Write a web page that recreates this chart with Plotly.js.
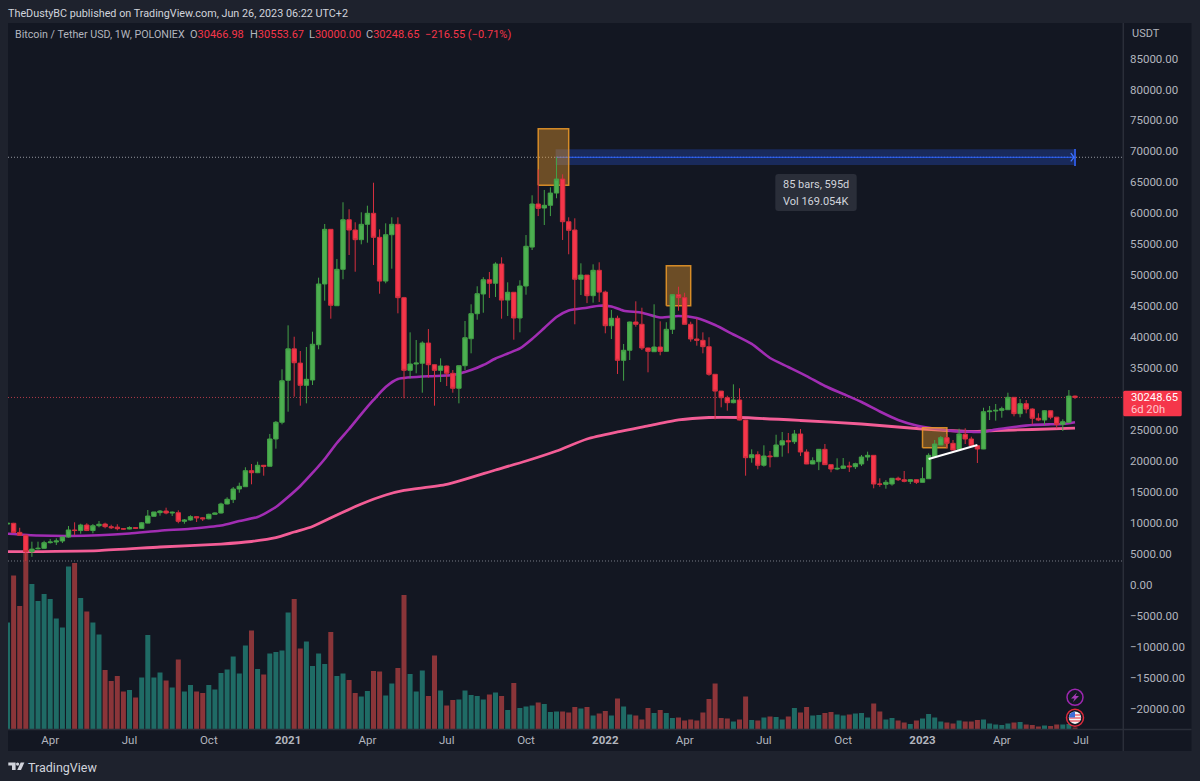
<!DOCTYPE html>
<html><head><meta charset="utf-8">
<script src="https://cdn.plot.ly/plotly-3.0.1.min.js"></script>
<style>html,body{margin:0;padding:0;background:#1e222d;overflow:hidden}#chart{width:1200px;height:781px}</style>
</head><body><div id="chart"></div>
<script>
const firstWeek = "2020-02-17";
const opens = [9800,9920,8450,8000,5330,5800,5880,6790,6900,7060,7700,8840,8750,9640,8750,9530,9800,9370,9300,9050,9000,9230,9100,9950,11050,11640,11900,11580,11630,10240,10450,10990,10800,10650,11370,11580,13040,13750,15460,15830,18420,18090,19290,19130,23540,26240,33020,38100,35800,32210,33070,38770,48580,57410,45070,50950,58960,57300,55740,58220,60000,56120,49050,56540,58220,46370,34630,35650,35770,39040,35540,34630,35330,34150,31730,35380,39740,43780,46960,49270,48700,51810,45980,47240,43080,48250,54540,61500,60850,61290,63270,65530,58640,57300,49340,50020,46690,50790,47270,41840,43040,36250,37870,42440,42070,38240,37640,38400,37700,41260,46850,46370,42070,39690,39480,38450,33990,31280,30210,29400,29840,26600,20520,21000,19290,20790,20680,22570,23250,23100,24350,21440,19500,19870,21870,19390,18690,18800,19180,19060,19500,20630,20900,16270,16220,16270,17190,16960,16700,16960,16540,17120,20680,22570,23750,22840,21870,24300,23540,22460,21920,27950,28060,28170,28270,30270,27630,29240,28380,26880,26600,28100,27070,25900,26230,30466.98];
const highs = [10000,9990,9200,8100,6950,6950,7100,7380,7490,7750,9480,10080,9850,9920,9800,10290,10020,9690,9760,9130,9430,9290,10130,12070,11750,12070,12440,11830,12020,10610,11210,11050,10900,11470,11680,13250,14120,15780,16480,18970,19500,19870,19330,24350,26450,34800,41900,40060,37750,38400,40870,49600,58270,57410,52620,61780,60650,58550,60160,61230,64940,57410,58380,59350,59350,46500,40770,39530,39320,41300,35600,36570,35400,34680,35400,42600,45300,48210,49680,50520,52080,52890,48850,47240,49180,56490,62910,67100,63770,64200,69050,66300,59350,59190,51920,50020,51760,52080,47500,44380,43460,38890,42500,45780,44750,38300,45300,42550,42400,46900,48140,47170,42490,43040,40770,39970,34000,31300,30530,32370,31730,26650,21870,21550,22520,21600,24230,24670,24510,24990,25150,21870,20580,21900,22730,19400,20420,20470,19870,19710,20950,21490,20950,17190,16910,17220,17450,18370,17000,17000,18960,21230,23380,24030,24350,23380,25200,25270,23910,22500,28590,28870,29190,28760,31020,30300,30000,29840,28500,27690,28200,28150,27100,26720,31450,30553.67];
const lows = [9500,8400,7950,3830,4500,5690,5800,6650,6410,6730,7590,8030,8240,8660,8300,9270,9110,9000,8790,8900,8950,9020,9050,9900,11000,11150,11370,11100,9920,9850,10350,10130,10290,10550,11300,11500,12970,13200,14860,15800,16220,18030,17610,19100,21970,25910,27950,30370,28920,29300,32260,38030,45880,42970,45020,49340,53260,50560,54990,55250,51650,47010,48690,51050,43840,30110,33340,34150,31020,33440,28920,32740,32100,31020,29300,34680,37380,42810,43940,46320,46480,42970,43410,39580,40770,46850,54070,59550,58110,59550,62430,55690,53380,42070,46800,45490,45560,45670,40610,39690,34040,32960,36300,41680,37910,34310,37600,37060,37650,40500,44260,42050,39260,38610,37380,33760,26710,28660,28110,29300,26550,17610,19710,18640,19060,18960,20650,20680,21230,22730,20790,19480,19480,18510,19380,18160,18510,19060,18210,18690,19180,20030,15570,15830,15510,16000,16750,16540,16270,16270,16500,17100,20650,22550,22040,21750,21760,22730,22290,19660,21900,26600,26500,26980,28250,27200,27040,27690,25900,26420,25850,26720,25270,24830,26200,30000];
const closes = [9920,8450,8000,5330,5750,5880,6790,6900,7060,7700,8840,8750,9640,8750,9530,9760,9370,9210,9050,8990,9230,9100,10000,11090,11750,11900,11580,11700,10240,10450,10990,10800,10650,11370,11580,13040,13800,15460,15900,18420,18090,19290,19130,23540,26240,32950,38100,35860,32210,33180,38840,48580,57410,45140,50950,58960,57300,55740,58220,60000,56120,49050,56540,58220,46370,34630,35650,35800,39040,35540,34630,35330,34150,31730,35380,39900,43780,47010,49270,48700,51810,45980,47240,43080,48250,54670,61500,60800,61290,63270,65530,58640,57250,49340,50020,46690,50790,47270,41840,43040,36250,37870,42440,42070,38240,37700,38400,37700,41260,46850,46370,42070,39690,39480,38450,33990,31280,30210,29400,29840,26600,20520,21000,19290,20790,20680,22570,23250,23100,24350,21440,19500,20030,21870,19390,18690,18800,19180,19060,19550,20630,20900,16270,16220,16540,17190,16960,16700,16960,16540,17120,20900,22730,23750,22840,21760,24350,23540,22460,21920,27950,28060,28170,28430,30270,27630,29240,28380,26880,26600,28100,27070,25900,26330,30466.98,30248.65];
const volumeK = [21.3,30.7,24.6,35.6,29,25.6,27,26,22.1,20.3,32.5,33.2,26.2,23.5,21.3,18.9,11.8,9.6,10.6,7.5,7.8,6.3,10.3,18.8,10.3,11.3,9.7,8.3,13.9,7.5,8.8,7.5,7.2,8.8,7.9,11.2,11.9,14.5,11.1,16.7,19.7,12,10.9,15.1,15.4,15.7,23.3,26,16.1,17.5,12.6,15.1,13,19.4,10.6,11.1,9.8,7.2,6.5,7.6,11.6,11.5,6.7,9.1,12.2,26.8,11,7.5,11.7,6.6,14.7,7.7,4.7,5.8,5.9,7.7,6.8,6.6,5.9,6.9,7.3,6.6,3.8,9.2,4.2,4.5,4.7,5.3,5,3.4,3.5,3.5,3.3,4.4,4.1,4.4,2.7,3.1,3.6,2.7,6.1,4.5,2.9,2.7,1.9,4.2,3.2,3.8,3.2,2.2,2.3,1.7,1.9,1.7,3.3,6,9.1,2.2,2.1,1.5,1.9,6.5,1.8,1.7,2.3,2.5,2.4,1.9,2.5,4.2,3.3,4.4,2.7,2.8,3.2,3.4,2.9,2.7,2.9,3.1,3.2,2.3,5.1,3.5,1.9,2.2,1.7,1.3,1,1.7,2.1,3,2.3,1.5,1.3,1.1,1.7,1.5,1.5,1.8,1.9,1.1,0.9,0.8,1.1,1.3,1.4,0.9,0.8,0.5,0.7,0.6,0.9,0.9,1,0.3];

const fastMaWeek = [0,5,10,15,20,25,30,35,38,41,44,46,48,50,52,54,56,58,60,62,64,70,73,76,78,80,82,84,86,88,90,92,95,97,99,101,104,107,110,113,116,119,122,125,128,131,134,137,140,143,146,149,152,155,158,160,162,165,168,171,173,175];
const fastMaValue = [8240,7950,7870,7980,8270,8720,9050,9560,10290,10940,12550,14170,15950,18050,20310,22890,25150,27570,29840,31940,33230,33720,33880,34680,35490,36540,37350,38160,39690,41470,43250,44300,44750,45070,44940,44270,43940,43170,43410,43080,41950,40420,38890,36620,35170,33710,32100,30810,29510,27980,26610,25720,25190,24830,24700,24670,25070,25480,25800,25910,25960,26240];
const slowMaWeek = [0,15,25,35,40,44,47,50,54,58,62,65,72,80,85,90,95,100,105,110,115,120,130,140,150,158,162,168,175];
const slowMaValue = [5330,5520,6090,6570,6980,7590,8510,9400,11260,13040,14490,15220,16190,18530,19980,21600,23540,24670,25640,26610,27010,27010,26530,25960,25150,24750,24910,25070,25310];

const zoneStartWeek = [87,108,150];
const zoneEndWeek = [92,112,154];
const zoneTop = [73670,51530,25360];
const zoneBottom = [64520,45070,22130];

const priceTicks = [-20000,-15000,-10000,-5000,0,5000,10000,15000,20000,25000,35000,40000,45000,50000,55000,60000,65000,70000,75000,80000,85000];
const timeTicks = ["2020-04-06","2020-07-06","2020-10-05","2021-01-04","2021-04-05","2021-07-05","2021-10-04","2022-01-03","2022-04-04","2022-07-04","2022-10-03","2023-01-02","2023-04-03","2023-07-03"];
const timeLabels = ["Apr","Jul","Oct","<b>2021</b>","Apr","Jul","Oct","<b>2022</b>","Apr","Jul","Oct","<b>2023</b>","Apr","Jul"];

const FONT = "Roboto, Inter, sans-serif";
const GREEN="#4caf50", RED="#f5364a";
const weeks = opens.map((_,i)=>new Date(Date.parse(firstWeek+"T00:00:00Z")+i*7*864e5).toISOString().slice(0,10));

const L=8,R=1123,T=23,B=729;
const fx=x=>(x-L)/(R-L), fy=y=>(B-y)/(B-T);
const P=(x,y)=>fx(x)+","+fy(y);
const rectP=(x0,y0,x1,y1,o)=>Object.assign({type:"rect",xref:"paper",yref:"paper",x0:fx(x0),x1:fx(x1),y0:fy(y0),y1:fy(y1),line:{width:0}},o);
const circ=(cx,cy,r,o)=>Object.assign({type:"circle",xref:"paper",yref:"paper",x0:fx(cx-r),x1:fx(cx+r),y0:fy(cy-r),y1:fy(cy+r)},o);
const pathP=(d,o)=>Object.assign({type:"path",xref:"paper",yref:"paper",path:d,line:{width:0}},o);
const lineP=(x0,y0,x1,y1,c,w)=>({type:"line",xref:"paper",yref:"paper",x0:fx(x0),x1:fx(x1),y0:fy(y0),y1:fy(y1),line:{color:c,width:w}});
const roundRect=(x0,y0,x1,y1,r)=>`M${P(x0+r,y0)} L${P(x1-r,y0)} Q${P(x1,y0)} ${P(x1,y0+r)} L${P(x1,y1-r)} Q${P(x1,y1)} ${P(x1-r,y1)} L${P(x0+r,y1)} Q${P(x0,y1)} ${P(x0,y1-r)} L${P(x0,y0+r)} Q${P(x0,y0)} ${P(x0+r,y0)} Z`;

const priceLine=(v,c)=>({type:"line",xref:"paper",yref:"y2",x0:0,x1:1,y0:v,y1:v,line:{color:c,width:1,dash:"1px,2px"},layer:"below"});

const shapes=[
 rectP(L,T,1191.5,751,{fillcolor:"#131722",layer:"below"}),
 lineP(L,729.5,1191.5,729.5,"#2a2e39",1.5),
 lineP(1123.3,T,1123.3,751,"#2a2e39",1.5),
 priceLine(3830,"#787b86"),priceLine(30248.65,"#b03a48"),
 {type:"rect",xref:"x",yref:"y2",x0:"2021-11-07",x1:"2023-06-26",y0:67800,y1:70340,fillcolor:"rgba(41,98,255,0.26)",line:{width:0},layer:"below"},
 {type:"line",xref:"x",yref:"y2",x0:"2021-11-07",x1:"2023-06-26",y0:69050,y1:69050,line:{color:"#2962ff",width:1},layer:"below"},
 priceLine(69050,"#9598a1"),
 {type:"line",xref:"x",yref:"y3",x0:weeks[151],x1:weeks[159],y0:20310,y1:22570,line:{color:"#ffffff",width:2},layer:"above"},
 // Measure-tool end bar and arrow head
 lineP(1075,149,1075,166,"#2c55d6",2),
 pathP(`M${P(1070.8,153.2)} L${P(1074,157.3)} L${P(1070.8,161.4)}`,{line:{color:"#3f74ff",width:1.3},fillcolor:"rgba(0,0,0,0)"}),
 // Measure-tool tooltip
 pathP(roundRect(775.3,174,856.7,211,3),{fillcolor:"#2a2e39"}),
 // Price label on the scale
 pathP(roundRect(1123.3,390.7,1181.7,416.2,1.5),{fillcolor:RED}),
 // Event icons
 circ(1075,697.3,8,{fillcolor:"#131722",line:{color:"#9c27b0",width:1.5}}),
 pathP(`M${P(1077,692.5)} L${P(1071,698.5)} L${P(1074.5,698.5)} L${P(1073,702)} L${P(1079,696)} L${P(1075.5,696)} Z`,{fillcolor:"#a63ab8"}),
 circ(1075,717.7,8.5,{fillcolor:"#131722",line:{color:"#e02b3c",width:1.5}}),
 circ(1075,717.7,6.2,{fillcolor:"#f5f5f5",line:{width:0}}),
 lineP(1070,715,1080,715,"#e8434f",1.2),lineP(1069.2,718,1080.8,718,"#e8434f",1.2),lineP(1070,721,1080,721,"#e8434f",1.2),
 pathP(`M${P(1075,711.5)} L${P(1075,717.5)} L${P(1068.9,717.5)} Q${P(1069.5,712)} ${P(1075,711.5)} Z`,{fillcolor:"#3c6fd8"}),
 // TradingView logo
 pathP(`M${P(8.3,762.5)} L${P(15.6,762.5)} L${P(15.6,770)} L${P(12,770)} L${P(12,765.6)} L${P(8.3,765.6)} Z`,{fillcolor:"#d1d4dc"}),
 circ(17.6,764.1,1.6,{fillcolor:"#d1d4dc",line:{width:0}}),
 pathP(`M${P(20.7,762.5)} L${P(24.4,762.5)} L${P(21,770)} L${P(17.2,770)} Z`,{fillcolor:"#d1d4dc"}),
];

const ann=(x,y,text,o)=>Object.assign({xref:"paper",yref:"paper",x:fx(x),y:fy(y),text,showarrow:false,xanchor:"left",yanchor:"middle",font:{family:FONT,size:12,color:"#b2b5be"}},o);
const r=s=>`<span style="color:${RED}">${s}</span>`;
const lg={font:{family:FONT,size:11,color:"#b2b5be"}};
const annotations=[
 ann(6,13,"TheDustyBC published on TradingView.com, Jun 26, 2023 06:22 UTC+2",{font:{family:FONT,size:10.8,color:"#d1d4dc"}}),
 ann(12.5,35,"Bitcoin / Tether USD, 1W, POLONIEX",{font:{family:FONT,size:10.7,color:"#b2b5be"}}),
 ann(187.8,35,`O${r("30466.98")}`,lg),ann(248,35,`H${r("30553.67")}`,lg),ann(306.8,35,`L${r("30000.00")}`,lg),ann(364,35,`C${r("30248.65")}`,lg),ann(423.3,35,r("−216.55 (−0.71%)"),lg),
 ann(1130,33.5,"USDT",{font:{family:FONT,size:11,color:"#b2b5be"}}),
 ann(26,767,"TradingView",{font:{family:FONT,size:12.5,color:"#d1d4dc"}}),
 ann(815.7,184.5,"85 bars, 595d",{xanchor:"center",font:{family:FONT,size:11,color:"#d1d4dc"}}),
 ann(815.7,201,"Vol 169.054K",{xanchor:"center",font:{family:FONT,size:11,color:"#d1d4dc"}}),
 ann(1128.5,397,"30248.65",{font:{family:FONT,size:11.2,color:"#ffffff"}}),
 ann(1128.5,409.5,"6d 20h",{font:{family:FONT,size:11.2,color:"#ffc9ce"}}),
];

const zoneTraces = zoneStartWeek.map((s,k)=>{
 const a=weeks[s], b=weeks[zoneEndWeek[k]];
 return {type:"scatter",mode:"lines",x:[a,b,b,a,a],y:[zoneBottom[k],zoneBottom[k],zoneTop[k],zoneTop[k],zoneBottom[k]],yaxis:"y2",fill:"toself",fillcolor:"rgba(242,160,45,0.40)",line:{color:"rgba(240,155,40,0.85)",width:1.5},hoverinfo:"skip",showlegend:false};
});

const data=[
 {type:"bar",x:weeks,y:volumeK,yaxis:"y",marker:{color:opens.map((o,i)=>closes[i]>=o?"#1f6b65":"#8a3539"),line:{width:0}},hoverinfo:"skip",showlegend:false},
 {type:"scatter",mode:"lines",x:slowMaWeek.map(i=>weeks[i]),y:slowMaValue,yaxis:"y2",line:{color:"#f35d96",width:2.8,shape:"spline",smoothing:0.6},showlegend:false},
 {type:"scatter",mode:"lines",x:fastMaWeek.map(i=>weeks[i]),y:fastMaValue,yaxis:"y2",line:{color:"#a12db3",width:2.6,shape:"spline",smoothing:0.6},showlegend:false},
 ...zoneTraces,
 {type:"candlestick",x:weeks,open:opens,high:highs,low:lows,close:closes,yaxis:"y3",whiskerwidth:0,showlegend:false,
  increasing:{line:{color:"#43a047",width:1},fillcolor:GREEN},decreasing:{line:{color:"#d42f3f",width:1},fillcolor:RED}},
];

const priceRange=[-23312,90743];
const layout={
 width:1200,height:781,autosize:false,
 margin:{l:L,r:1200-R,t:T,b:781-B,pad:0},
 paper_bgcolor:"#1e222d",plot_bgcolor:"rgba(0,0,0,0)",
 font:{family:FONT,color:"#b2b5be",size:11.5},
 showlegend:false,bargap:0.18,boxgap:0.28,boxgroupgap:0,hovermode:false,
 xaxis:{type:"date",range:["2020-02-17 13:46","2023-08-20 02:00"],tickmode:"array",tickvals:timeTicks,ticktext:timeLabels,showgrid:false,zeroline:false,showline:false,ticks:"",rangeslider:{visible:false},tickfont:{family:FONT,size:11.5,color:"#b2b5be"},fixedrange:true,ticklabelstandoff:2},
 yaxis:{range:[0,141.2],visible:false,fixedrange:true,showgrid:false,zeroline:false},
 yaxis2:{overlaying:"y",side:"right",anchor:"x",range:priceRange,tickmode:"array",tickvals:priceTicks,ticktext:priceTicks.map(v=>(v<0?"−":"")+Math.abs(v).toFixed(2)),showgrid:false,zeroline:false,showline:false,ticks:"",tickfont:{family:FONT,size:11.5,color:"#b2b5be"},fixedrange:true,ticklabelstandoff:6},
 yaxis3:{overlaying:"y",side:"right",anchor:"x",range:priceRange,visible:false,fixedrange:true,showgrid:false,zeroline:false},
 shapes,annotations
};
Plotly.newPlot("chart",data,layout,{staticPlot:true,displayModeBar:false});
</script></body></html>
